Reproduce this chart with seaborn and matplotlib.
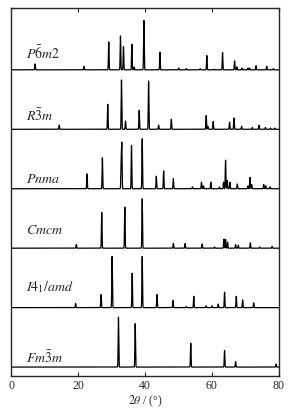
import numpy as np
import pandas as pd
import seaborn as sns
import matplotlib.pyplot as plt

# peak positions (2theta, deg) and relative heights for each phase, top to bottom
phases = ["P-6m2", "R-3m", "Pnma", "Cmcm", "I41/amd", "Fm-3m"]
labels = [r"$P\bar{6}m2$", r"$R\bar{3}m$", r"$Pnma$", r"$Cmcm$",
          r"$I4_1/amd$", r"$Fm\bar{3}m$"]
label_offsets = [0.29, 0.25, 0.18, 0.32, 0.37, 0.18]

p6m2_pos = [7.2, 21.8, 29.2, 32.7, 33.6, 36.1, 36.8, 39.7, 44.5, 50.1, 52.4,
            56.5, 58.5, 60.7, 63.2, 66.8, 67.5, 69.0, 70.8, 71.3, 73.2, 76.4, 78.4]
p6m2_int = [0.10, 0.06, 0.47, 0.57, 0.39, 0.43, 0.05, 0.83, 0.30, 0.03, 0.02,
            0.02, 0.24, 0.01, 0.29, 0.15, 0.05, 0.03, 0.03, 0.03, 0.07, 0.06, 0.02]

r3m_pos = [14.4, 28.9, 33.0, 34.2, 38.3, 41.1, 44.1, 47.9, 58.3, 58.8, 60.4,
           65.3, 66.6, 68.9, 72.1, 74.1, 76.0, 77.5, 78.8]
r3m_int = [0.07, 0.42, 0.83, 0.14, 0.32, 0.81, 0.07, 0.17, 0.23, 0.05, 0.13,
           0.12, 0.19, 0.05, 0.03, 0.07, 0.03, 0.02, 0.02]

pnma_pos = [22.7, 27.3, 32.9, 33.1, 36.0, 39.2, 43.4, 45.6, 48.5, 54.2, 56.9,
            57.5, 59.7, 62.3, 63.5, 64.1, 64.6, 65.4, 67.6, 70.8, 71.4, 71.9,
            75.5, 76.1, 77.4]
pnma_int = [0.25, 0.52, 0.46, 0.74, 0.73, 0.84, 0.21, 0.30, 0.17, 0.03, 0.11,
            0.05, 0.11, 0.03, 0.11, 0.48, 0.14, 0.11, 0.08, 0.05, 0.19, 0.07,
            0.07, 0.05, 0.03]

cmcm_pos = [19.5, 27.1, 34.0, 39.2, 48.5, 52.0, 57.1, 60.8, 63.6, 64.1, 64.7,
            67.1, 67.9, 71.5, 74.3, 78.0]
cmcm_int = [0.06, 0.60, 0.69, 0.83, 0.08, 0.08, 0.07, 0.02, 0.15, 0.15, 0.10,
            0.06, 0.05, 0.09, 0.02, 0.03]

i41_pos = [19.3, 26.9, 30.2, 36.2, 39.2, 43.6, 48.4, 52.4, 54.6, 58.3, 60.1,
           61.9, 63.8, 67.3, 69.2, 72.5]
i41_int = [0.07, 0.22, 0.86, 0.58, 0.86, 0.22, 0.12, 0.02, 0.19, 0.03, 0.03,
           0.06, 0.26, 0.19, 0.13, 0.08]

fm3m_pos = [32.1, 37.1, 53.7, 63.8, 67.1, 79.2]
fm3m_int = [0.84, 0.73, 0.40, 0.28, 0.09, 0.05]

peak_lists = [(p6m2_pos, p6m2_int), (r3m_pos, r3m_int), (pnma_pos, pnma_int),
              (cmcm_pos, cmcm_int), (i41_pos, i41_int), (fm3m_pos, fm3m_int)]


def build_profile(name, pos, inten, offset, width=0.09):
    tt = np.linspace(0, 80, 8001)
    y = np.zeros_like(tt)
    for p, h in zip(pos, inten):
        y += h * np.exp(-0.5 * ((tt - p) / width) ** 2)
    return pd.DataFrame({"two_theta": tt, "intensity": y + offset, "phase": name})


frames = []
n = len(phases)
for i, (name, (pos, inten)) in enumerate(zip(phases, peak_lists)):
    frames.append(build_profile(name, pos, inten, n - 1 - i))
df = pd.concat(frames, ignore_index=True)

sns.set_style("ticks")
plt.rcParams["font.family"] = ["Liberation Serif", "DejaVu Serif"]
plt.rcParams["mathtext.fontset"] = "stix"

fig = plt.figure(figsize=(2.92, 4.10), dpi=100)
ax = fig.add_axes([0.0377, 0.0805, 0.917, 0.8975])

sns.lineplot(data=df, x="two_theta", y="intensity", units="phase",
             estimator=None, color="black", lw=0.9, ax=ax, legend=False)

for i, lab in enumerate(labels):
    ax.text(4.4, n - 1 - i + label_offsets[i], lab, fontsize=10,
            ha="left", va="center")

ax.set_xlim(0, 80)
ax.set_ylim(-0.15, 6.04)
ax.set_xticks([0, 20, 40, 60, 80])
ax.set_yticks([])
ax.tick_params(axis="x", direction="in", top=True, length=3, width=0.8,
               labelsize=8.5, pad=2)
for sp in ax.spines.values():
    sp.set_linewidth(1.0)
    sp.set_visible(True)
ax.set_xlabel(r"$2\theta$ / (°)", fontsize=8.5, labelpad=1)
ax.set_ylabel("")

fig.savefig("out.png", dpi=100)
